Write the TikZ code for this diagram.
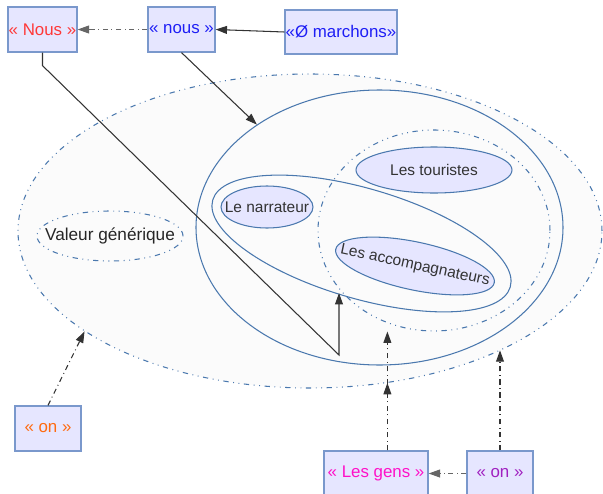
\documentclass[tikz,border=0pt]{standalone}
\usepackage{fontspec}
\setmainfont{Liberation Sans}
\usetikzlibrary{arrows.meta, shapes.geometric}
\definecolor{boxfill}{HTML}{E6E6FF}
\definecolor{boxline}{HTML}{7A98CC}
\definecolor{setline}{HTML}{4A78AE}
\definecolor{setfill}{HTML}{FBFBFB}
\definecolor{labtext}{HTML}{333333}
\definecolor{nousred}{HTML}{FF3838}
\definecolor{nousblue}{HTML}{1E1EF5}
\definecolor{onorange}{HTML}{FF6A10}
\definecolor{gensmagenta}{HTML}{FF10C8}
\definecolor{onpurple}{HTML}{A020C0}
\tikzset{tagbox/.style 2 args={draw=boxline, fill=boxfill, line width=0.7pt,
    minimum width=#1*0.02cm, minimum height=#2*0.02cm, inner sep=0pt,
    font=\fontsize{9.6}{11}\selectfont},
  setell/.style 2 args={ellipse, draw=setline, line width=0.6pt,
    minimum width=#1*0.02cm, minimum height=#2*0.02cm, inner sep=0pt},
  lab/.style={text=labtext, font=\fontsize{8.8}{10}\selectfont},
  dashdotdot/.style={dash pattern=on 3pt off 2.6pt on 0.5pt off 2.6pt on 0.5pt off 2.6pt},
  dashdot/.style={dash pattern=on 3pt off 2pt on 0.5pt off 2pt},
  refarrow/.style={-{Triangle[length=6.5pt,width=4.5pt]}, line width=0.6pt, black!80},
}

\begin{document}
\begin{tikzpicture}[x=0.02cm, y=-0.02cm]
    \useasboundingbox (0,0) rectangle (603,494);
    %Sets drawn as ellipses:
    \node[setell={584}{314}, fill=setfill, dashdotdot] (outer) at (310,231) {};
    \node[setell={367}{275}, fill=setfill] (nousset) at (379.5,227.5) {};
    \node[setell={232}{201}, dashdotdot] (inner) at (434,230.5) {};
    \node[setell={310}{110}, rotate=-16.3] (pair) at (361.5,243.5) {};
    \node[setell={156}{46}, fill=boxfill, label={[lab]center:Les touristes}] (touristes) at (434,170) {};
    \node[setell={92}{42}, fill=boxfill, label={[lab]center:Le narrateur}] (narrateur) at (267,207) {};
    \node[setell={162}{48}, fill=boxfill, rotate=-12, label={[lab, rotate=-12]center:Les accompagnateurs}] (accomp) at (415,266) {};
    \node[setell={146}{50}, dashdotdot, label={[text=black!85, font=\fontsize{9.8}{11}\selectfont]center:Valeur générique}] (generique) at (110,236) {};
    %Forms in boxes
    \node[tagbox={69}{45}, text=nousred] (Nous) at (42.5,29.5) {« Nous »};
    \node[tagbox={67}{45}, text=nousblue] (nous) at (181.5,29.5) {« nous »};
    \node[tagbox={112}{44}, text=nousblue] (marchons) at (341,32) {«Ø marchons»};
    \node[tagbox={66}{45}, text=onorange] (on) at (48,428.5) {« on »};
    \node[tagbox={104}{45}, text=gensmagenta] (gens) at (376,473.5) {« Les gens »};
    \node[tagbox={66}{45}, text=onpurple] (onpl) at (500,473.5) {« on »};
    %Top connectors
    \draw[refarrow] (marchons.west) -- (nous.east);
    \draw[refarrow, dashdot, black!60] (nous.west) -- (Nous.east);
    \draw[refarrow] (nous.south) -- (nousset.140);
    \coordinate (elbow) at (339,355);
    \coordinate (foot) at (339,293);
    \draw[refarrow] (Nous.south) -- ++(0,13) -- (elbow) -- (foot);
    %Bottom connectors
    \draw[refarrow, dashdot] (on.north) -- (outer.-156);
    \draw[refarrow, dashdot] (outer.-63 |- gens.north) -- (outer.-63);
    \draw[refarrow, dashdot] (outer.-63 |- gens.north) -- (outer.-63 |- inner.south);
    \draw[refarrow, dashdot] (onpl.north) -- (onpl.north |- outer.-32);
    \draw[refarrow, dashdot, black!60] (onpl.west) -- (gens.east);
\end{tikzpicture}
\end{document}
